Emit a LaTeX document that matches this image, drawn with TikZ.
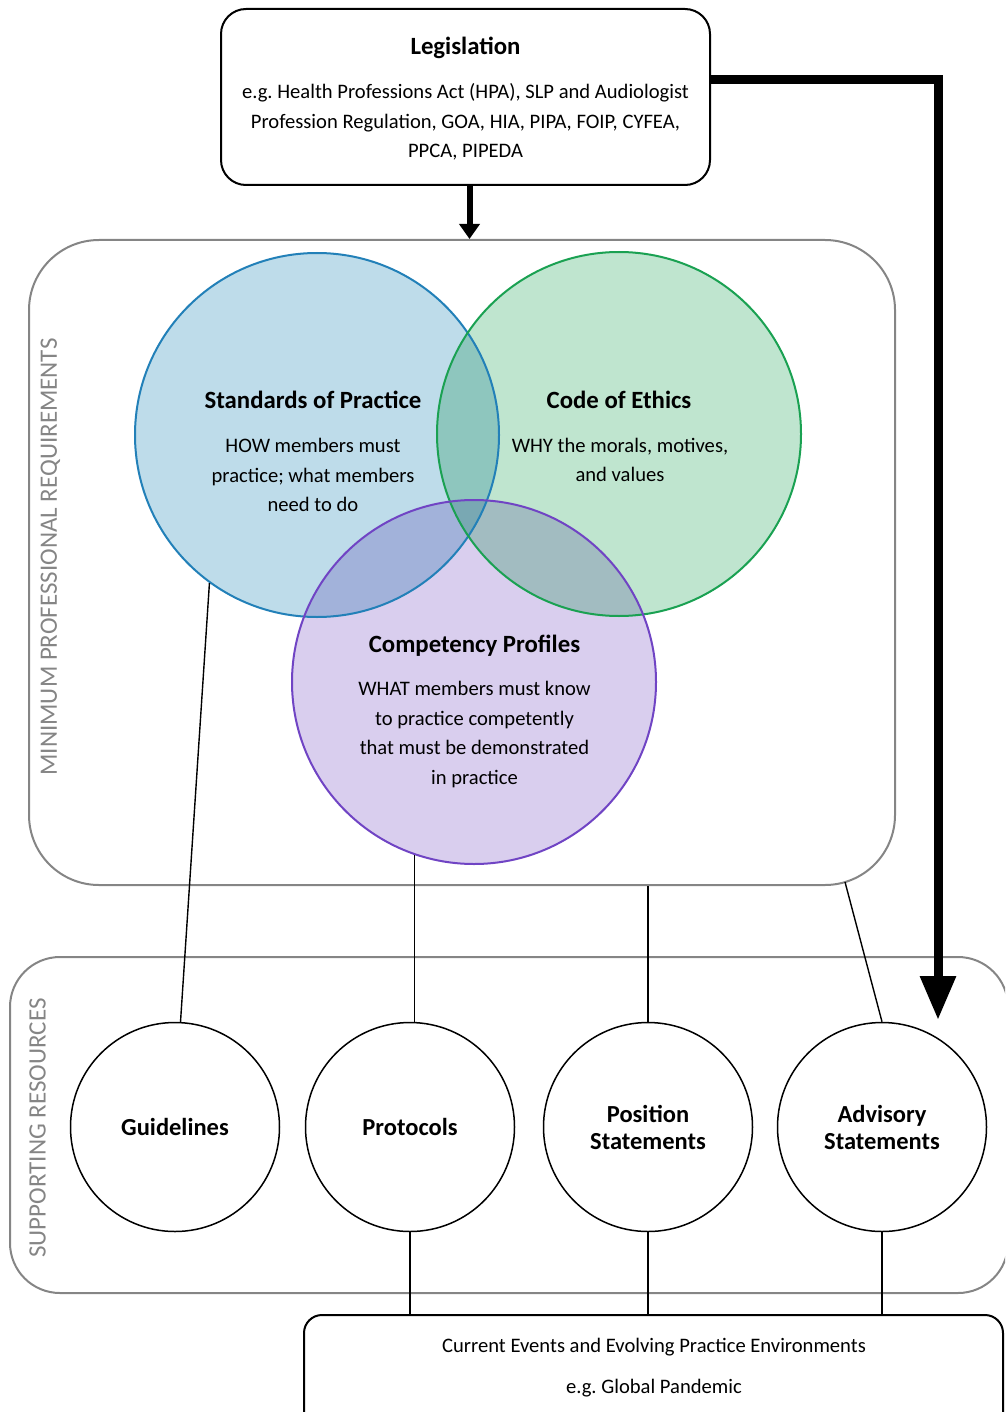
\documentclass[tikz,border=0pt]{standalone}
\usepackage{fontspec}
\setmainfont{Carlito}
\usetikzlibrary{arrows.meta,calc}
\definecolor{bluefill}{HTML}{BEDCEA}
\definecolor{greenfill}{HTML}{BFE5CF}
\definecolor{purplefill}{HTML}{D9CEEE}
\definecolor{bgfill}{HTML}{8EC6BE}
\definecolor{bpfill}{HTML}{A2B2DA}
\definecolor{gpfill}{HTML}{A2BCC1}
\definecolor{bgpfill}{HTML}{79A8B3}
\definecolor{bluestroke}{HTML}{2280B8}
\definecolor{greenstroke}{HTML}{1AA152}
\definecolor{purplestroke}{HTML}{7044C4}
\definecolor{grpgray}{HTML}{858585}
\begin{document}
\begin{tikzpicture}[x=1pt,y=-1pt,
  titletext/.style={font=\fontsize{24.8}{29}\selectfont\bfseries, align=center, inner sep=0pt},
  bodytext/.style={font=\fontsize{20.6}{29.5}\selectfont, align=center, inner sep=0pt},
  smalltext/.style={font=\fontsize{20.6}{29}\selectfont, align=center, inner sep=0pt},
  legbox/.style={draw=black, line width=2pt, rounded corners=25pt, inner sep=0pt},
  grpbox/.style={draw=grpgray, line width=2pt, inner sep=0pt},
  venn/.style={circle, line width=2pt, minimum size=364pt, inner sep=0pt},
  rescircle/.style={circle, draw=black, line width=1.5pt, minimum size=209pt, inner sep=0pt,
    font=\fontsize{24.5}{27}\selectfont\bfseries, align=center},
  sidelabel/.style={rotate=90, text=grpgray, font=\fontsize{25}{28}\selectfont, inner sep=0pt},
  conn/.style={draw=black, line width=1.4pt},
  bigarrow/.style={draw=black, line join=miter}
]
\path[use as bounding box] (0,0) rectangle (1005,1412);
\clip (0,0) rectangle (1005,1412);

% group boxes
\node[grpbox, rounded corners=70pt, minimum width=866pt, minimum height=645pt] (mpr) at (462,562.5) {};
\node[grpbox, rounded corners=50pt, minimum width=998pt, minimum height=336pt] (sr) at (509,1125) {};
\node[sidelabel] (mprlab) at (50.5,557) {MINIMUM PROFESSIONAL REQUIREMENTS};
\node[sidelabel] (srlab) at (37.5,1128) {SUPPORTING RESOURCES};

% Venn fills
\fill[bluefill] (317,435) circle[radius=182];
\fill[greenfill] (619,434) circle[radius=182];
\fill[purplefill] (474,682) circle[radius=182];
\begin{scope}
  \clip (317,435) circle[radius=182];
  \fill[bgfill] (619,434) circle[radius=182];
  \fill[bpfill] (474,682) circle[radius=182];
\end{scope}
\begin{scope}
  \clip (619,434) circle[radius=182];
  \fill[gpfill] (474,682) circle[radius=182];
  \clip (317,435) circle[radius=182];
  \fill[bgpfill] (474,682) circle[radius=182];
\end{scope}

% Venn outlines
\node[venn, draw=bluestroke] (sop) at (317,435) {};
\node[venn, draw=greenstroke] (coe) at (619,434) {};
\node[venn, draw=purplestroke] (cp) at (474,682) {};

% Venn texts
\node[titletext] (sopt) at (313,400) {Standards of Practice};
\node[bodytext] (sopb) at (313,475) {HOW members must\\practice; what members\\need to do};
\node[titletext] (coet) at (619,400) {Code of Ethics};
\node[bodytext] (coeb) at (620,460) {WHY the morals, motives,\\and values};
\node[titletext] (cpt) at (474.5,646) {Competency Profiles};
\node[bodytext] (cpb) at (474.5,734.5) {WHAT members must know\\to practice competently\\that must be demonstrated\\in practice};

% Legislation
\node[legbox, fill=white, minimum width=489pt, minimum height=176pt] (leg) at (465.5,97) {};
\node[titletext] (legt) at (465.5,48) {Legislation};
\node[bodytext] (legb) at (465.5,122) {e.g.\ Health Professions Act (HPA), SLP and Audiologist\\Profession Regulation, GOA, HIA, PIPA, FOIP, CYFEA,\\PPCA, PIPEDA};

% supporting resources
\node[rescircle] (guid) at (175,1127) {Guidelines};
\node[rescircle] (prot) at (410,1127) {Protocols};
\node[rescircle] (pos) at (648,1127) {Position\\Statements};
\node[rescircle] (adv) at (882,1127) {Advisory\\Statements};

% current events box
\node[legbox, rounded corners=18pt, minimum width=699pt, minimum height=125pt] (cur) at (653.5,1377.5) {};
\node[smalltext] (curt) at (654,1347) {Current Events and Evolving Practice Environments};
\node[smalltext] (curb) at (654,1388) {e.g.\ Global Pandemic};

% connectors
\coordinate (mprc) at (845,882);
\draw[conn] (sop.234) -- (guid.87);
\draw[conn] (cp.251) -- (cp.251 |- prot.north);
\draw[conn] (pos.north |- mpr.south) -- (pos.north);
\draw[conn] (mprc) -- (adv.north);
\draw[conn] (prot.south) -- (prot.south |- cur.north);
\draw[conn] (pos.south) -- (pos.south |- cur.north);
\draw[conn] (adv.south) -- (adv.south |- cur.north);

% arrows
\coordinate (advin) at (938,1020);
\draw[bigarrow, line width=6pt, -{Triangle[length=15pt,width=20pt]}] ([xshift=4pt]leg.south) -- ([xshift=4pt]leg.south |- mpr.north);
\draw[bigarrow, line width=9pt, -{Triangle[length=44pt,width=34pt]}] ([yshift=17pt]leg.east) -| (advin);
\end{tikzpicture}
\end{document}
